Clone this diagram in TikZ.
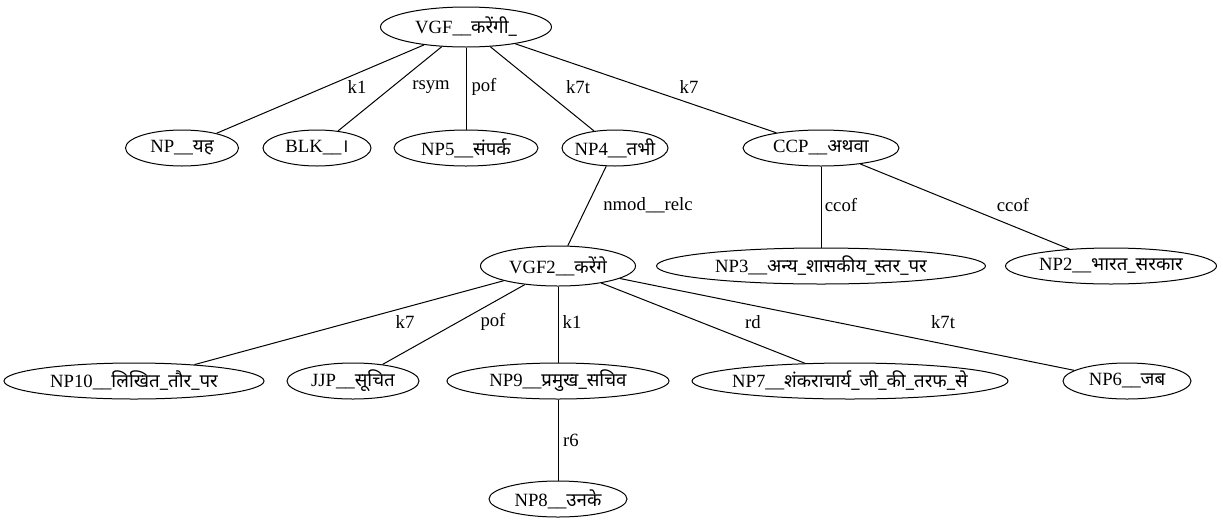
\documentclass[tikz,border=0pt]{standalone}
\usepackage{fontspec}
\usetikzlibrary{shapes.geometric}
\setmainfont{Liberation Serif}
\newfontfamily\devfont[Script=Devanagari,Scale=1.0]{Noto Sans}
\newcommand{\dv}[1]{{\devfont #1}}
% zero-width text so every ellipse keeps exactly its given size
\newcommand{\tk}[1]{\makebox[0pt][c]{#1}}
\begin{document}
\begin{tikzpicture}[x=1pt,y=-1pt,
  every node/.style={font=\fontsize{18.7}{21}\selectfont},
  tok/.style={ellipse,draw,line width=1pt,inner sep=0pt,minimum height=36pt},
  lbl/.style={inner sep=0pt},
  edge/.style={line width=1pt}]
\useasboundingbox (0,0) rectangle (1223,528);

% sentence head and its dependents
\node[tok,minimum width=171pt,minimum height=40pt] (vgf) at (466,27) {\tk{VGF\_\_\dv{करेंगी\_}}};
\node[tok,minimum width=113pt] (np) at (182,148) {\tk{NP\_\_\dv{यह}}};
\node[tok,minimum width=108pt] (blk) at (317,148) {\tk{BLK\_\_\dv{।}}};
\node[tok,minimum width=144pt] (np5) at (466,148) {\tk{NP5\_\_\dv{संपर्क}}};
\node[tok,minimum width=106pt] (np4) at (615,148) {\tk{NP4\_\_\dv{तभी}}};
\node[tok,minimum width=156pt] (ccp) at (821,148) {\tk{CCP\_\_\dv{अथवा}}};

% relative clause and the coordinated phrases
\node[tok,minimum width=155pt,minimum height=40pt] (vgf2) at (558,266) {\tk{VGF2\_\_\dv{करेंगे}}};
\node[tok,minimum width=329pt] (np3) at (821,266) {\tk{NP3\_\_\dv{अन्य\_शासकीय\_स्तर\_पर}}};
\node[tok,minimum width=211pt] (np2) at (1111,266) {\tk{NP2\_\_\dv{भारत\_सरकार}}};

% dependents of the relative clause verb
\node[tok,minimum width=260pt] (np10) at (134,381) {\tk{NP10\_\_\dv{लिखित\_तौर\_पर}}};
\node[tok,minimum width=132pt] (jjp) at (353,381) {\tk{JJP\_\_\dv{सूचित}}};
\node[tok,minimum width=222pt] (np9) at (558,381) {\tk{NP9\_\_\dv{प्रमुख\_सचिव}}};
\node[tok,minimum width=316pt] (np7) at (850,381) {\tk{NP7\_\_\dv{शंकराचार्य\_जी\_की\_तरफ\_से}}};
\node[tok,minimum width=128pt] (np6) at (1127,381) {\tk{NP6\_\_\dv{जब}}};
\node[tok,minimum width=138pt] (np8) at (558,499) {\tk{NP8\_\_\dv{उनके}}};

% dependency arcs
\draw[edge] (vgf) -- (np);
\draw[edge] (vgf) -- (blk);
\draw[edge] (vgf) -- (np5);
\draw[edge] (vgf) -- (np4);
\draw[edge] (vgf) -- (ccp);
\draw[edge] (np4) -- (vgf2);
\draw[edge] (ccp) -- (np3);
\draw[edge] (ccp) -- (np2);
\draw[edge] (vgf2) -- (np10);
\draw[edge] (vgf2) -- (jjp);
\draw[edge] (vgf2) -- (np9);
\draw[edge] (vgf2) -- (np7);
\draw[edge] (vgf2) -- (np6);
\draw[edge] (np9) -- (np8);

% relation labels
\node[lbl] (l1) at (357,87) {k1};
\node[lbl] (l2) at (431,87) {rsym};
\node[lbl] (l3) at (484,87) {pof};
\node[lbl] (l4) at (578,87) {k7t};
\node[lbl] (l5) at (689,87) {k7};
\node[lbl] (l6) at (648,205) {nmod\_\_relc};
\node[lbl] (l7) at (841,205) {ccof};
\node[lbl] (l8) at (1013,205) {ccof};
\node[lbl] (l9) at (405,322) {k7};
\node[lbl] (l10) at (493,322) {pof};
\node[lbl] (l11) at (572,322) {k1};
\node[lbl] (l12) at (753,322) {rd};
\node[lbl] (l13) at (943,322) {k7t};
\node[lbl] (l14) at (571,440) {r6};
\end{tikzpicture}
\end{document}
